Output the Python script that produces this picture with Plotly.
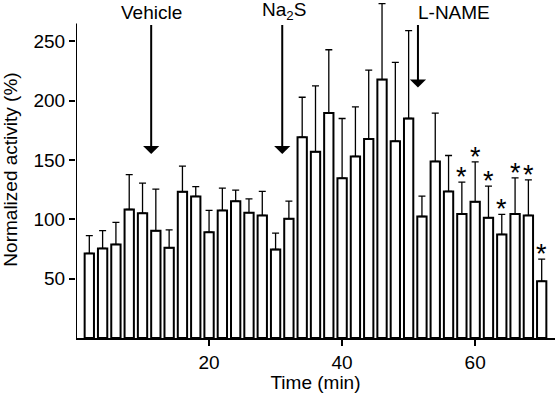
import plotly.graph_objects as go

times = [2, 4, 6, 8, 10, 12, 14, 16, 18, 20, 22, 24, 26, 28, 30, 32, 34, 36,
         38, 40, 42, 44, 46, 48, 50, 52, 54, 56, 58, 60, 62, 64, 66, 68, 70]
means = [71.3, 75.5, 78.9, 108.3, 105.2, 90.4, 76.0, 123.2, 119.3, 89.2,
         107.5, 115.3, 105.6, 103.3, 74.6, 100.5, 169.2, 156.9, 189.7, 134.7,
         153.0, 167.6, 217.8, 165.9, 185.0, 102.4, 148.8, 123.5, 104.4, 114.8,
         101.3, 87.3, 104.4, 103.3, 47.9]
sems = [15.0, 15.0, 18.5, 29.3, 25.3, 35.1, 15.2, 21.6, 8.2, 18.3,
        18.8, 9.3, 11.7, 20.2, 13.8, 14.8, 33.7, 55.6, 53.2, 50.3,
        41.8, 58.1, 64.0, 66.3, 74.1, 17.1, 40.7, 30.3, 26.9, 33.7,
        26.7, 16.8, 30.6, 30.0, 18.6]
significant = [58, 60, 62, 64, 66, 68, 70]

treatments = ["Vehicle", "Na<sub>2</sub>S", "L-NAME"]
treat_times = [11.3, 31.0, 51.4]
arrow_tips = [155, 155, 211]
label_x = [11.3, 31.3, 56.8]

x_ticks = [20, 40, 60]
y_ticks = [50, 100, 150, 200, 250]

FONT = "Liberation Sans, Arial, sans-serif"
FS = 19

fig = go.Figure()
fig.add_trace(go.Bar(
    x=times, y=means, width=1.4,
    marker=dict(color="white", line=dict(color="black", width=2)),
    error_y=dict(type="data", array=sems, arrayminus=[0] * len(sems),
                 symmetric=False, color="black", thickness=1.3, width=3.5),
    cliponaxis=False,
))

annotations = []
for name, t, tip, lx in zip(treatments, treat_times, arrow_tips, label_x):
    annotations.append(dict(
        x=t, y=tip, ax=t, ay=265, xref="x", yref="y", axref="x", ayref="y",
        showarrow=True, arrowhead=1, arrowsize=1.35, arrowwidth=2,
        arrowcolor="black", text=""))
    annotations.append(dict(
        x=lx, y=265, xref="x", yref="y", text=name, showarrow=False,
        yanchor="bottom", xanchor="center", yshift=-1,
        font=dict(family=FONT, size=FS, color="black")))

for t, m, s in zip(times, means, sems):
    if t in significant:
        annotations.append(dict(
            x=t, y=m + s, xref="x", yref="y", text="*", showarrow=False,
            yanchor="bottom", xanchor="center", yshift=-12,
            font=dict(family=FONT, size=27, color="black")))

fig.update_layout(
    width=558, height=393,
    margin=dict(l=76, r=3, t=1, b=55),
    plot_bgcolor="white", paper_bgcolor="white",
    showlegend=False,
    font=dict(family=FONT, size=FS, color="black"),
    annotations=annotations,
    shapes=[dict(type="line", xref="x", yref="y", x0=0, x1=0, y0=0, y1=265,
                 line=dict(color="black", width=2))],
    xaxis=dict(range=[0, 72], tickvals=x_ticks, ticks="outside", ticklen=6,
               tickwidth=2, tickcolor="black", showline=True, linecolor="black",
               linewidth=2, showgrid=False, zeroline=False, automargin=False,
               title=dict(text="Time (min)", standoff=2,
                          font=dict(family=FONT, size=FS))),
    yaxis=dict(range=[0, 284], tickvals=y_ticks, ticks="outside", ticklen=6,
               tickwidth=2, tickcolor="black", showline=False,
               showgrid=False, zeroline=False, automargin=False,
               title=dict(text="Normalized activity (%)", standoff=10,
                          font=dict(family=FONT, size=FS))),
)

fig.write_html("out.html",
               config={"displayModeBar": False},
               post_script="document.body.style.margin='0';"
                           "document.body.style.overflow='hidden';")
